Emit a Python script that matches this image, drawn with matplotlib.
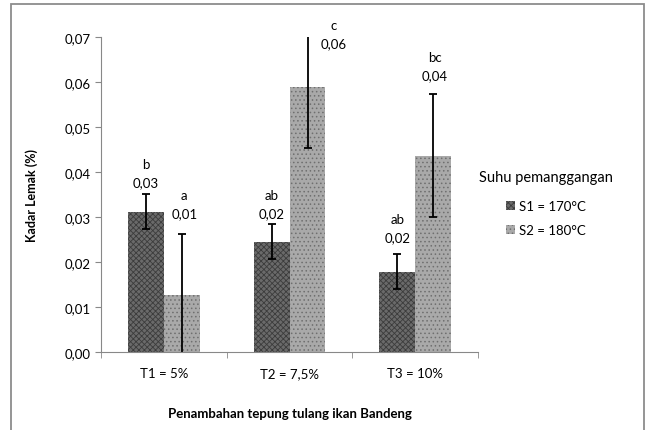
import numpy as np
import matplotlib.pyplot as plt
from matplotlib.patches import Rectangle

plt.rcParams['font.family'] = ['Lato', 'DejaVu Sans']
plt.rcParams['hatch.linewidth'] = 0.6

# Data
categories = ['T1 = 5%', 'T2 = 7,5%', 'T3 = 10%']
s1_values = [0.0312, 0.0245, 0.0178]
s2_values = [0.0127, 0.0589, 0.0436]
s1_err = [0.0039, 0.0039, 0.0039]
s2_err = [0.0135, 0.0136, 0.0137]
s1_letters = ['b', 'ab', 'ab']
s2_letters = ['a', 'c', 'bc']
s1_labels = ['0,03', '0,02', '0,02']
s2_labels = ['0,01', '0,06', '0,04']
series_names = ['S1 = 170°C', 'S2 = 180°C']
yticks = [0.00, 0.01, 0.02, 0.03, 0.04, 0.05, 0.06, 0.07]

# label anchor heights (data units, number line) as placed in the original
s1_label_y = [0.0378, 0.0309, 0.0256]
s2_label_y = [0.0309, 0.0687, 0.0616]
s2_label_dx = [0.02, 0.21, 0.01]

fig = plt.figure(figsize=(6.47, 4.31), dpi=100)
ax = fig.add_axes([0.156, 0.181, 0.583, 0.731])

x = np.arange(len(categories))
w = 0.286

b1 = ax.bar(x - w / 2, s1_values, w, color='#6a6a6a', hatch='xxxxxx',
            edgecolor='#3c3c3c', linewidth=0, label=series_names[0])
b2 = ax.bar(x + w / 2, s2_values, w, color='#a9a9a9', hatch='....',
            edgecolor='#6f6f6f', linewidth=0, label=series_names[1])

ax.errorbar(x - w / 2, s1_values, yerr=s1_err, fmt='none', ecolor='black',
            elinewidth=1.3, capsize=3, capthick=1.3)
ax.errorbar(x + w / 2, s2_values, yerr=s2_err, fmt='none', ecolor='black',
            elinewidth=1.3, capsize=3, capthick=1.3)

for i in range(len(categories)):
    ax.text(x[i] - w / 2, s1_label_y[i], s1_labels[i], ha='center', va='center', fontsize=9.5)
    ax.text(x[i] - w / 2, s1_label_y[i] + 0.0039, s1_letters[i], ha='center', va='center', fontsize=9.5)
    ax.text(x[i] + w / 2 + s2_label_dx[i], s2_label_y[i], s2_labels[i], ha='center', va='center',
            fontsize=9.5, clip_on=False)
    ax.text(x[i] + w / 2 + s2_label_dx[i], s2_label_y[i] + 0.0039, s2_letters[i], ha='center',
            va='center', fontsize=9.5, clip_on=False)

ax.set_xlim(-0.5, len(categories) - 0.5)
ax.set_ylim(0, 0.07)
ax.set_yticks(yticks)
ax.set_yticklabels([f'{v:.2f}'.replace('.', ',') for v in yticks], fontsize=9.5)
ax.set_xticks(x)
ax.set_xticklabels(categories, fontsize=9.5)
ax.set_xticks(np.arange(-0.5, len(categories)), minor=True)
ax.tick_params(axis='x', which='major', length=0, pad=11)
ax.tick_params(axis='x', which='minor', length=4, color='#888888')
ax.tick_params(axis='y', length=4, color='#888888')

for side in ['top', 'right']:
    ax.spines[side].set_visible(False)
for side in ['left', 'bottom']:
    ax.spines[side].set_color('#888888')

ax.set_ylabel('Kadar Lemak (%)', fontsize=9, fontweight='bold')
ax.yaxis.set_label_coords(-0.167, 0.5)
ax.set_xlabel('Penambahan tepung tulang ikan Bandeng', fontsize=9.5, fontweight='bold', labelpad=20)

leg = ax.legend(title='Suhu pemanggangan', loc='upper center', bbox_to_anchor=(1.18, 0.60),
                frameon=False, fontsize=9.5, title_fontsize=10.5, handlelength=0.7,
                handleheight=0.7, handletextpad=0.3, labelspacing=0.9, borderpad=0)
leg._legend_box.align = 'center'
leg._legend_box.sep = 12

fig.patches.append(Rectangle((11 / 647, -0.01), 633 / 647, 1 - 5 / 431 + 0.01,
                             transform=fig.transFigure, fill=False,
                             edgecolor='#8c8c8c', linewidth=1.3))

fig.savefig('out.png', dpi=100)
